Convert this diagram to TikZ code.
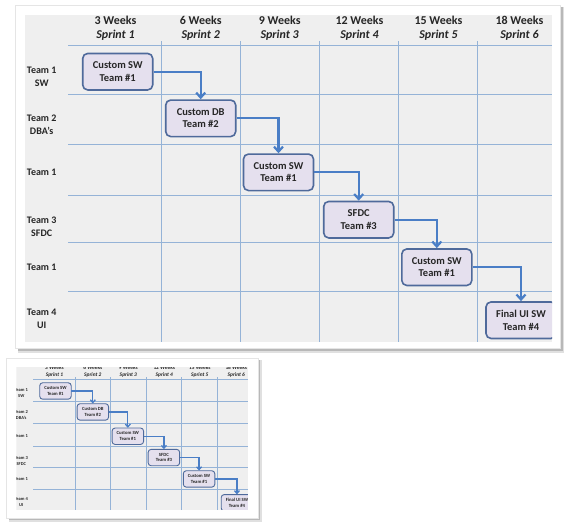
\documentclass[tikz,border=0pt]{standalone}
\usepackage{fontspec}
\setmainfont{Carlito}
\usepackage{tikz}
\usetikzlibrary{arrows.meta}
\usepackage{xcolor}

\begin{document}
\begin{tikzpicture}[
    x=1pt, y=-1pt,
    % 任务方块与文字样式
    task/.style={rectangle, draw=boxDraw, line width=1.6pt, fill=boxFill, rounded corners=5pt, minimum width=70pt, minimum height=36.5pt, inner sep=0pt, align=center, text=black!85, font=\bfseries\fontsize{10.5}{12.5}\selectfont},
    team/.style={align=center, text=black!85, font=\bfseries\fontsize{10}{13}\selectfont},
    week/.style={align=center, text=black!85, font=\bfseries\fontsize{12}{14}\selectfont},
    gridln/.style={draw=gridBlue, line width=1pt},
    flow/.style={-{Straight Barb[length=5pt, width=9pt]}, draw=flowBlue, line width=2.2pt},
]

% ==================== 1. 颜色 ====================
\definecolor{gridBlue}{HTML}{95B3D7}
\definecolor{boxFill}{HTML}{E5E0EE}
\definecolor{boxDraw}{HTML}{4F6A9B}
\definecolor{flowBlue}{HTML}{4A7EC6}
\definecolor{panelGray}{HTML}{EFEFEF}

\useasboundingbox (0,0) rectangle (568,528);
\fill[white] (0,0) rectangle (568,528);

% ==================== 2. 整张冲刺图 (像素坐标) ====================
\def\sprintchart{%
    \fill[panelGray] (25,15) rectangle (552,341.7);
    % 横向网格线
    \draw[gridln] (68.3,45.7) -- (552,45.7);
    \draw[gridln] (68.3,94.3) -- (552,94.3);
    \draw[gridln] (68.3,144)  -- (552,144);
    \draw[gridln] (68.3,195)  -- (552,195);
    \draw[gridln] (68.3,242)  -- (552,242);
    \draw[gridln] (68.3,291)  -- (552,291);
    % 纵向网格线
    \draw[gridln] (161,41)   -- (161,341.7);
    \draw[gridln] (240.3,41) -- (240.3,341.7);
    \draw[gridln] (319,41)   -- (319,341.7);
    \draw[gridln] (398.3,41) -- (398.3,341.7);
    \draw[gridln] (477.3,41) -- (477.3,341.7);
    % 表头
    \node[week] (wk1) at (115.5,28.7) {3 Weeks\\\textit{Sprint 1}};
    \node[week] (wk2) at (200.7,28.7) {6 Weeks\\\textit{Sprint 2}};
    \node[week] (wk3) at (279.7,28.7) {9 Weeks\\\textit{Sprint 3}};
    \node[week] (wk4) at (359.5,28.7) {12 Weeks\\\textit{Sprint 4}};
    \node[week] (wk5) at (438.5,28.7) {15 Weeks\\\textit{Sprint 5}};
    \node[week] (wk6) at (519.5,28.7) {18 Weeks\\\textit{Sprint 6}};
    % 行标题
    \node[team] (team_r1) at (41.7,76.3)  {Team 1\\SW};
    \node[team] (team_r2) at (41.7,125.2) {Team 2\\DBA’s};
    \node[team] (team_r3) at (41.7,172.7) {Team 1};
    \node[team] (team_r4) at (41.7,226.5) {Team 3\\SFDC};
    \node[team] (team_r5) at (41.7,267)   {Team 1};
    \node[team] (team_r6) at (41.7,319.2) {Team 4\\UI};
    % 任务方块
    \node[task] (sw_one)    at (117.7,71.7)  {Custom SW\\Team \#1};
    \node[task] (db_two)    at (200.7,118.3) {Custom DB\\Team \#2};
    \node[task] (sw_three)  at (278.5,172.3) {Custom SW\\Team \#1};
    \node[task] (sfdc_four) at (358.7,219.7) {SFDC\\Team \#3};
    \node[task] (sw_five)   at (436.8,267.2) {Custom SW\\Team \#1};
    \node[task] (ui_six)    at (521,320.2)   {Final UI SW\\Team \#4};
    % 阶梯式交接箭头
    \draw[flow] (sw_one.east)    -| (db_two.north);
    \draw[flow] (db_two.east)    -| (sw_three.north);
    \draw[flow] (sw_three.east)  -| (sfdc_four.north);
    \draw[flow] (sfdc_four.east) -| (sw_five.north);
    \draw[flow] (sw_five.east)   -| (ui_six.north);
}

% ==================== 3. 大图 ====================
\fill[black!12] (17.5,7) rectangle (564,352.5);
\fill[black!28] (17.5,7) rectangle (562.5,350.5);
\fill[white] (15.7,5) rectangle (560.7,348);
\draw[black!10, line width=0.6pt] (15.7,5) rectangle (560.7,348);
\begin{scope}
    \clip (25,15) rectangle (552,341.7);
    \sprintchart
\end{scope}

% ==================== 4. 缩略图 (裁切过的缩小副本) ====================
\fill[black!12] (8.5,360.3) rectangle (261.5,521.5);
\fill[black!28] (8.5,360.3) rectangle (260,520);
\fill[white] (6.7,358.3) rectangle (258.3,518.3);
\draw[black!10, line width=0.5pt] (6.7,358.3) rectangle (258.3,518.3);
\begin{scope}[shift={(2.5,358.7)}, scale=0.45, transform shape, name prefix=mini-,
    gridln/.append style={line width=0.6pt},
    task/.append style={line width=0.9pt, rounded corners=3pt},
    flow/.append style={draw=flowBlue, line width=1.3pt, -{Straight Barb[length=2.8pt, width=5pt]}}]
    \clip (31,20.5) rectangle (545.5,334.7);
    \sprintchart
\end{scope}

\end{tikzpicture}
\end{document}
